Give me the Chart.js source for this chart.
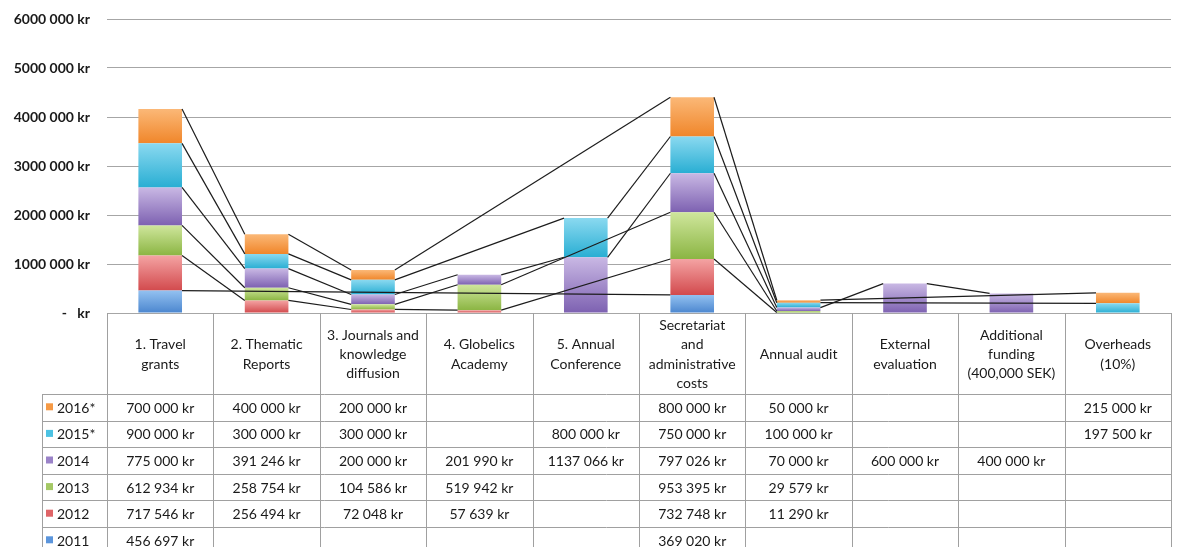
<!DOCTYPE html>
<html>
<head>
<meta charset="utf-8">
<script src="https://cdn.jsdelivr.net/npm/chart.js@4/dist/chart.umd.min.js"></script>
<style>
  html, body { margin: 0; padding: 0; background: #fff; }
  #wrap { width: 1178px; height: 547px; }
</style>
</head>
<body>
<div id="wrap"><canvas id="chart-area" width="1178" height="547"></canvas></div>
<script>
// categories (header lines of the data table)
const categories = [
  ['1. Travel', 'grants'],
  ['2. Thematic', 'Reports'],
  ['3. Journals and', 'knowledge', 'diffusion'],
  ['4. Globelics', 'Academy'],
  ['5. Annual', 'Conference'],
  ['Secretariat', 'and', 'administrative', 'costs'],
  ['Annual audit'],
  ['External', 'evaluation'],
  ['Additional', 'funding', '(400,000 SEK)'],
  ['Overheads', '(10%)'],
];

// series, bottom of the stack first
const years = ['2011', '2012', '2013', '2014', '2015*', '2016*'];
const y2011 = [456697, null, null, null, null, 369020, null, null, null, null];
const y2012 = [717546, 256494, 72048, 57639, null, 732748, 11290, null, null, null];
const y2013 = [612934, 258754, 104586, 519942, null, 953395, 29579, null, null, null];
const y2014 = [775000, 391246, 200000, 201990, 1137066, 797026, 70000, 600000, 400000, null];
const y2015 = [900000, 300000, 300000, null, 800000, 750000, 100000, null, null, 197500];
const y2016 = [700000, 400000, 200000, null, null, 800000, 50000, null, null, 215000];
const series = [y2011, y2012, y2013, y2014, y2015, y2016];

const yTickLabels = ['-   kr', '1000 000 kr', '2000 000 kr', '3000 000 kr', '4000 000 kr', '5000 000 kr', '6000 000 kr'];

// light (top) / dark (bottom) shades per series
const colorTop = ['#93c1f0', '#f4a3a3', '#cfe69c', '#c9b8e4', '#8ad9f0', '#fbb877'];
const colorBottom = ['#4b86cf', '#d24a4d', '#8bb543', '#7d61b1', '#29aed3', '#f0862a'];
const colorKey = ['#5b95dc', '#df6467', '#a4c865', '#9a82c8', '#4cc2e3', '#f69a45'];

const FONT = 'Lato, "Open Sans", sans-serif';

function fmtKr(n) {
  const th = Math.floor(n / 1000);
  const rest = String(n % 1000).padStart(3, '0');
  return (th > 0 ? th + ' ' + rest : String(n % 1000)) + ' kr';
}

function stackValue(d, i) {
  let s = 0;
  for (let k = 0; k <= d; k++) s += series[k][i] || 0;
  return s;
}

function barFill(ctx) {
  const d = ctx.datasetIndex;
  const chart = ctx.chart;
  const ys = chart.scales && chart.scales.y;
  if (ctx.type !== 'data' || !ys || ys.top == null || !chart.chartArea) return colorKey[d];
  const i = ctx.dataIndex;
  const top = ys.getPixelForValue(stackValue(d, i));
  const base = ys.getPixelForValue(stackValue(d, i) - (series[d][i] || 0));
  if (!isFinite(top) || !isFinite(base) || top === base) return colorKey[d];
  const g = chart.ctx.createLinearGradient(0, top, 0, base);
  g.addColorStop(0, colorTop[d]);
  g.addColorStop(1, colorBottom[d]);
  return g;
}

// Excel-style series lines joining each series' top between neighbouring bars
const seriesLines = {
  id: 'seriesLines',
  afterDatasetsDraw(chart) {
    const c = chart.ctx;
    const ys = chart.scales.y;
    c.save();
    c.strokeStyle = '#1c1c1c';
    c.lineWidth = 1.2;
    series.forEach((vals, d) => {
      const meta = chart.getDatasetMeta(d);
      let prev = null;
      vals.forEach((v, i) => {
        if (v == null) return;
        const bar = meta.data[i];
        const top = ys.getPixelForValue(stackValue(d, i));
        if (prev) {
          c.beginPath();
          c.moveTo(prev.x, prev.y);
          c.lineTo(bar.x - bar.width / 2, top);
          c.stroke();
        }
        prev = { x: bar.x + bar.width / 2, y: top };
      });
    });
    c.restore();
  }
};

// data table under the plot
const dataTable = {
  id: 'dataTable',
  afterDraw(chart) {
    const c = chart.ctx;
    const xs = chart.scales.x;
    const area = chart.chartArea;
    const half = (xs.getPixelForValue(1) - xs.getPixelForValue(0)) / 2;
    const top = area.bottom;
    const headBottom = top + 81;
    const rowH = 26.6;
    const keyLeft = 42;
    const right = xs.getPixelForValue(categories.length - 1) + half;
    const rows = years.length;

    c.save();
    c.strokeStyle = '#a0a0a0';
    c.lineWidth = 1;
    // vertical lines
    for (let i = 0; i <= categories.length; i++) {
      const x = Math.round(xs.getPixelForValue(0) - half + i * 2 * half) + 0.5;
      c.beginPath();
      c.moveTo(x, top);
      c.lineTo(x, headBottom + rows * rowH);
      c.stroke();
    }
    c.beginPath();
    c.moveTo(keyLeft + 0.5, headBottom);
    c.lineTo(keyLeft + 0.5, headBottom + rows * rowH);
    c.stroke();
    // horizontal lines
    for (let r = 0; r <= rows; r++) {
      const y = Math.round(headBottom + r * rowH) + 0.5;
      c.beginPath();
      c.moveTo(keyLeft, y);
      c.lineTo(right, y);
      c.stroke();
    }

    c.fillStyle = '#1a1a1a';
    c.font = '14px ' + FONT;
    c.textAlign = 'center';
    c.textBaseline = 'middle';
    // header
    const lh = 19.3;
    const mid = (top + headBottom) / 2 + 1;
    categories.forEach((lines, i) => {
      const cx = xs.getPixelForValue(i);
      lines.forEach((t, k) => {
        c.fillText(t, cx, mid + (k - (lines.length - 1) / 2) * lh);
      });
    });
    // rows: newest year first
    for (let r = 0; r < rows; r++) {
      const d = rows - 1 - r;
      const cy = headBottom + r * rowH + rowH / 2 + 1;
      c.fillStyle = colorKey[d];
      c.fillRect(keyLeft + 4, cy - 5, 7, 7);
      c.fillStyle = '#1a1a1a';
      c.textAlign = 'left';
      c.fillText(years[d], keyLeft + 15, cy);
      c.textAlign = 'center';
      series[d].forEach((v, i) => {
        if (v == null) return;
        c.fillText(fmtKr(v), xs.getPixelForValue(i), cy);
      });
    }
    c.restore();
  }
};

const ctx = document.getElementById('chart-area').getContext('2d');
new Chart(ctx, {
  type: 'bar',
  data: {
    labels: categories.map(l => l.join(' ')),
    datasets: series.map((vals, d) => ({
      label: years[d],
      data: vals,
      backgroundColor: barFill,
      borderWidth: 0,
      categoryPercentage: 1,
      barPercentage: 0.41,
    })),
  },
  options: {
    responsive: false,
    animation: false,
    devicePixelRatio: 1,
    layout: { padding: { top: 19, right: 7, bottom: 234, left: 0 } },
    plugins: {
      legend: { display: false },
      tooltip: { enabled: false },
      title: { display: false },
    },
    scales: {
      x: { stacked: true, display: false },
      y: {
        stacked: true,
        min: 0,
        max: 6000000,
        border: { display: false },
        grid: { color: '#a6a6a6', lineWidth: 1, drawTicks: false },
        ticks: {
          stepSize: 1000000,
          padding: 17,
          color: '#1a1a1a',
          font: { family: FONT, size: 14, weight: 'bold' },
          callback: (v) => yTickLabels[Math.round(v / 1000000)],
        },
        afterFit: (scale) => {
          scale.width = 107;
          scale.paddingTop = 0;
          scale.paddingBottom = 0;
        },
      },
    },
  },
  plugins: [seriesLines, dataTable],
});
</script>
</body>
</html>
